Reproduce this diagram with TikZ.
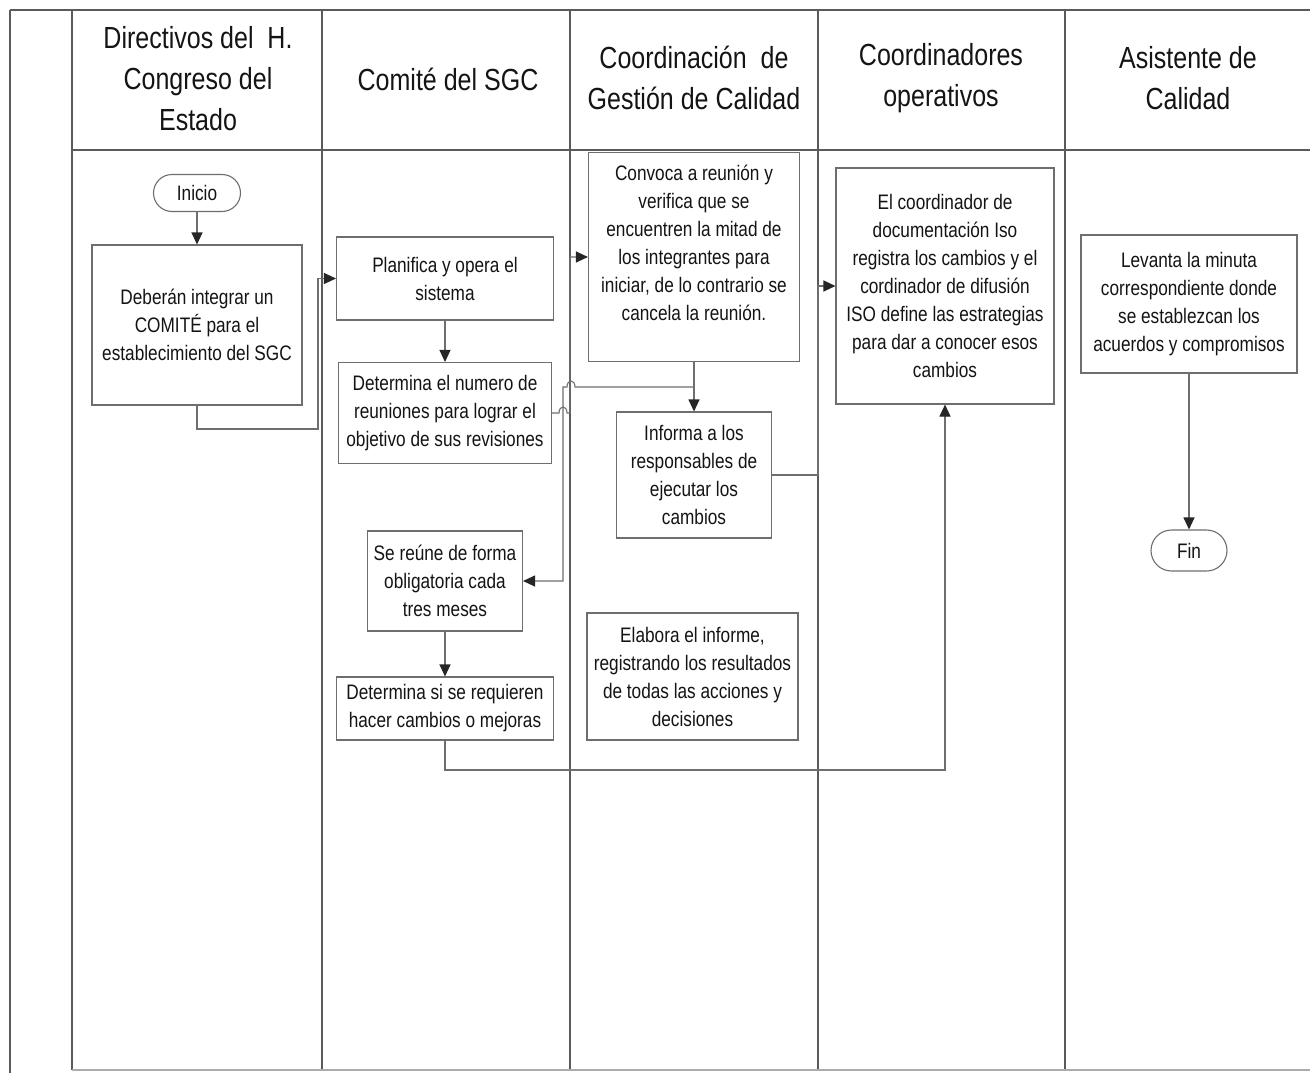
\documentclass[tikz,border=0pt]{standalone}
\usepackage{fontspec}
\setmainfont{Liberation Sans}[FakeStretch=0.82]
\usetikzlibrary{arrows.meta,shapes.misc}
\definecolor{linegray}{HTML}{6E6E6E}
\definecolor{framegray}{HTML}{5A5A5A}
\definecolor{txt}{HTML}{141414}
\tikzset{
  box/.style={draw=linegray, line width=1.1pt, fill=white, inner sep=0pt, align=center,
    text=txt, font=\fontsize{21}{28}\selectfont},
  term/.style={draw=linegray, line width=1.1pt, fill=white, inner sep=0pt, rounded rectangle,
    text=txt, font=\fontsize{21}{28}\selectfont},
  head/.style={align=center, text=txt, font=\fontsize{30.5}{41}\selectfont},
  lane/.style={draw=framegray, line width=1.2pt},
  conn/.style={draw=linegray, line width=1.1pt},
  arr/.style={conn, -{Triangle[length=12pt,width=11pt,color=black!85]}},
}
\begin{document}
\begin{tikzpicture}[x=1pt,y=-1pt]
\useasboundingbox[fill=white] (0,0) rectangle (1310,1073);
% frame and lanes
\draw[lane, line width=2pt] (10,10) -- (1310,10);
\draw[lane] (10,10) -- (10,1073);
\draw[lane] (72,10) -- (72,1070);
\draw[lane] (322,10) -- (322,1070);
\draw[lane] (570,10) -- (570,1070);
\draw[lane] (818,10) -- (818,1070);
\draw[lane] (1065,10) -- (1065,1070);
\draw[lane] (72,150) -- (1310,150);
\draw[lane, draw=framegray!50] (72,1070) -- (1310,1070);
% headers
\node[head] (h1) at (198,79) {Directivos del\ \ H.\\Congreso del\\Estado};
\node[head] (h2) at (448,79) {Comité del SGC};
\node[head] (h3) at (694,78) {Coordinación\ \ de\\Gestión de Calidad};
\node[head] (h4) at (941,78) {Coordinadores\\operativos};
\node[head] (h5) at (1188,78) {Asistente de\\Calidad};
% nodes
\node[term, minimum width=87pt, minimum height=37pt] (ini) at (197,193) {Inicio};
\node[box, minimum width=210pt, minimum height=160pt] (deb) at (197,325) {Deberán integrar un\\COMITÉ para el\\establecimiento del SGC};
\node[box, minimum width=217pt, minimum height=83pt] (plan) at (445,278.5) {Planifica y opera el\\sistema};
\node[box, minimum width=213pt, minimum height=101pt] (detnum) at (445,413) {Determina el numero de\\reuniones para lograr el\\objetivo de sus revisiones};
\node[box, minimum width=155pt, minimum height=100pt] (reune) at (445,581) {Se reúne de forma\\obligatoria cada\\tres meses};
\node[box, minimum width=217pt, minimum height=63pt] (detsi) at (445,708.5) {Determina si se requieren\\hacer cambios o mejoras};
\node[box, minimum width=211pt, minimum height=209pt] (conv) at (694,257) {Convoca a reunión y\\verifica que se\\encuentren la mitad de\\los integrantes para\\iniciar, de lo contrario se\\cancela la reunión.\\~};
\node[box, minimum width=155pt, minimum height=126pt] (inf) at (694,475) {Informa a los\\responsables de\\ejecutar los\\cambios};
\node[box, minimum width=211pt, minimum height=127pt] (elab) at (692.5,676.5) {Elabora el informe,\\registrando los resultados\\de todas las acciones y\\decisiones};
\node[box, minimum width=218pt, minimum height=236pt] (coord) at (945,286) {El coordinador de\\documentación Iso\\registra los cambios y el\\cordinador de difusión\\ISO define las estrategias\\para dar a conocer esos\\cambios};
\node[box, minimum width=216pt, minimum height=138pt] (lev) at (1189,304) {Levanta la minuta\\correspondiente donde\\se establezcan los\\acuerdos y compromisos};
\node[term, minimum width=76pt, minimum height=41pt] (fin) at (1189,550.5) {Fin};
% connectors
\draw[arr] (ini.south) -- (deb.north);
\draw[arr] (deb.south) |- (318,429) |- (plan.west);
\draw[arr] (plan.south) -- (detnum.north);
\draw[arr] (detnum.east) -- (559,413) .. controls (559,405) and (567,405) .. (567,413) -- (570,413) |- (conv.west);
\draw[arr] (conv.south) -- (inf.north);
\draw[arr] (694,387) -- (575,387) .. controls (575,379) and (567,379) .. (567,387) -- (563,387) |- (reune.east);
\draw[arr] (reune.south) -- (detsi.north);
\draw[arr] (inf.east) -- (818,0 |- inf.east) |- (coord.west);
\draw[arr] (detsi.south) |- (945,770) -- (coord.south);
\draw[arr] (lev.south) -- (fin.north);
\end{tikzpicture}
\end{document}
